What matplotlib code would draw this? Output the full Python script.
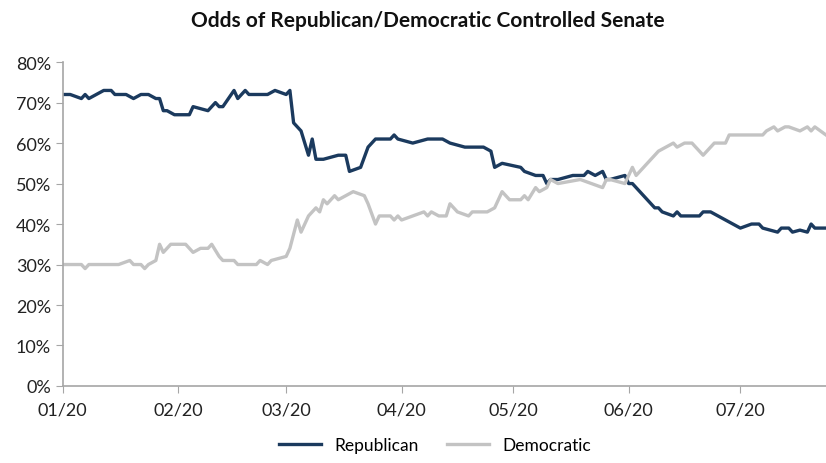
import pandas as pd
import matplotlib.pyplot as plt
import matplotlib.dates as mdates
from matplotlib.ticker import PercentFormatter

# odds, dates in 2020
rep_dates = ['01-01', '01-03', '01-06', '01-07', '01-08', '01-10', '01-12', '01-14', '01-15',
             '01-18', '01-20', '01-22', '01-24', '01-26', '01-27', '01-28', '01-29', '01-31',
             '02-04', '02-05', '02-09', '02-11', '02-12', '02-13', '02-16', '02-17', '02-19',
             '02-20', '02-25', '02-27', '03-01', '03-02', '03-03', '03-05', '03-07', '03-08',
             '03-09', '03-11', '03-15', '03-17', '03-18', '03-21', '03-23', '03-25', '03-29',
             '03-30', '03-31', '04-04', '04-08', '04-12', '04-14', '04-18', '04-23', '04-25',
             '04-26', '04-28', '05-03', '05-04', '05-07', '05-09', '05-10', '05-11', '05-13',
             '05-17', '05-20', '05-21', '05-23', '05-25', '05-26', '05-27', '05-31', '06-01',
             '06-02', '06-04', '06-06', '06-08', '06-09', '06-10', '06-13', '06-14', '06-15',
             '06-20', '06-21', '06-23', '06-25', '06-27', '06-29', '07-01', '07-04', '07-06',
             '07-07', '07-11', '07-12', '07-14', '07-15', '07-17', '07-19', '07-20', '07-21',
             '07-24']
rep_vals = [72, 72, 71, 72, 71, 72, 73, 73, 72,
            72, 71, 72, 72, 71, 71, 68, 68, 67,
            67, 69, 68, 70, 69, 69, 73, 71, 73,
            72, 72, 73, 72, 73, 65, 63, 57, 61,
            56, 56, 57, 57, 53, 54, 59, 61, 61,
            62, 61, 60, 61, 61, 60, 59, 59, 58,
            54, 55, 54, 53, 52, 52, 50, 51, 51,
            52, 52, 53, 52, 53, 51, 51, 52, 50,
            50, 48, 46, 44, 44, 43, 42, 43, 42,
            42, 43, 43, 42, 41, 40, 39, 40, 40,
            39, 38, 39, 39, 38, 38.5, 38, 40, 39,
            39]

dem_dates = ['01-01', '01-06', '01-07', '01-08', '01-16', '01-19', '01-20', '01-22', '01-23',
             '01-24', '01-26', '01-27', '01-28', '01-30', '02-03', '02-04', '02-05', '02-07',
             '02-09', '02-10', '02-12', '02-13', '02-16', '02-17', '02-19', '02-22', '02-23',
             '02-25', '02-26', '03-01', '03-02', '03-04', '03-05', '03-07', '03-09', '03-10',
             '03-11', '03-12', '03-14', '03-15', '03-17', '03-19', '03-22', '03-23', '03-25',
             '03-26', '03-29', '03-30', '03-31', '04-01', '04-04', '04-07', '04-08', '04-09',
             '04-11', '04-13', '04-14', '04-16', '04-19', '04-20', '04-24', '04-26', '04-28',
             '04-30', '05-03', '05-04', '05-05', '05-07', '05-08', '05-10', '05-11', '05-13',
             '05-19', '05-25', '05-26', '05-27', '05-31', '06-01', '06-02', '06-03', '06-09',
             '06-13', '06-14', '06-16', '06-18', '06-21', '06-24', '06-27', '06-28', '07-07',
             '07-08', '07-10', '07-11', '07-13', '07-14', '07-17', '07-19', '07-20', '07-21',
             '07-24']
dem_vals = [30, 30, 29, 30, 30, 31, 30, 30, 29,
            30, 31, 35, 33, 35, 35, 34, 33, 34,
            34, 35, 32, 31, 31, 30, 30, 30, 31,
            30, 31, 32, 34, 41, 38, 42, 44, 43,
            46, 45, 47, 46, 47, 48, 47, 45, 40,
            42, 42, 41, 42, 41, 42, 43, 42, 43,
            42, 42, 45, 43, 42, 43, 43, 44, 48,
            46, 46, 47, 46, 49, 48, 49, 51, 50,
            51, 49, 51, 51, 50, 52, 54, 52, 58,
            60, 59, 60, 60, 57, 60, 60, 62, 62,
            63, 64, 63, 64, 64, 63, 64, 63, 64,
            62]

month_ticks = ['2020-01-01', '2020-02-01', '2020-03-01', '2020-04-01',
               '2020-05-01', '2020-06-01', '2020-07-01']

rep_x = pd.to_datetime(['2020-' + d for d in rep_dates])
dem_x = pd.to_datetime(['2020-' + d for d in dem_dates])

plt.rcParams['font.family'] = ['Lato', 'DejaVu Sans']

fig = plt.figure(figsize=(8.26, 4.64), dpi=100)
ax = fig.add_axes([0.076, 0.166, 0.924, 0.698])

ax.plot(rep_x, rep_vals, color='#1b3a5e', lw=2.4, label='Republican')
ax.plot(dem_x, dem_vals, color='#c3c3c3', lw=2.4, label='Democratic')

ax.set_ylim(0, 80)
ax.set_yticks(range(0, 81, 10))
ax.yaxis.set_major_formatter(PercentFormatter(decimals=0))
ax.set_xlim(pd.Timestamp('2020-01-01'), pd.Timestamp('2020-07-24'))
ax.set_xticks(pd.to_datetime(month_ticks))
ax.xaxis.set_major_formatter(mdates.DateFormatter('%m/%y'))

for s in ['top', 'right']:
    ax.spines[s].set_visible(False)
for s in ['left', 'bottom']:
    ax.spines[s].set_color('#a6a6a6')
    ax.spines[s].set_linewidth(1.2)
ax.tick_params(colors='#a6a6a6', labelcolor='#222222', labelsize=13, length=5)
ax.tick_params(axis='x', pad=6)

fig.text(0.518, 0.955, 'Odds of Republican/Democratic Controlled Senate',
         ha='center', va='center', fontsize=15, fontweight='bold', color='#111111')

fig.legend(loc='lower center', bbox_to_anchor=(0.527, -0.012), ncol=2, frameon=False,
           fontsize=12.5, handlelength=2.4, columnspacing=1.6)

fig.savefig('out.png', dpi=100)
